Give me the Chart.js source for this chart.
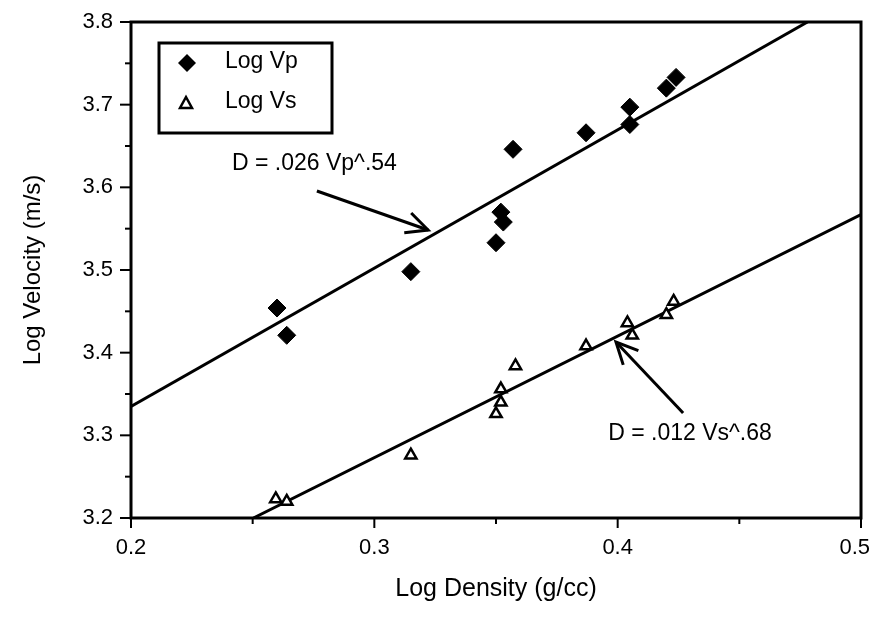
<!DOCTYPE html>
<html>
<head>
<meta charset="utf-8">
<script src="https://cdn.jsdelivr.net/npm/chart.js@4.4.0/dist/chart.umd.min.js"></script>
<style>
  body { margin: 0; background: #fff; }
  #wrap { width: 871px; height: 620px; }
</style>
</head>
<body>
<div id="wrap"><canvas id="chart"></canvas></div>
<script>
// values (log density in g/cc, log velocity in m/s)
const vpDensity  = [0.260, 0.264, 0.315, 0.350, 0.352, 0.353, 0.357, 0.387, 0.405, 0.405, 0.420, 0.424];
const vpVelocity = [3.454, 3.421, 3.498, 3.533, 3.570, 3.558, 3.646, 3.666, 3.676, 3.697, 3.720, 3.733];
const vsDensity  = [0.2595, 0.264, 0.315, 0.350, 0.352, 0.352, 0.358, 0.387, 0.404, 0.406, 0.420, 0.423];
const vsVelocity = [3.223, 3.220, 3.276, 3.326, 3.340, 3.356, 3.384, 3.408, 3.436, 3.421, 3.446, 3.462];

// fitted lines (end points)
const vpFitX = [0.2, 0.478];
const vpFitY = [3.335, 3.8];
const vsFitX = [0.2503, 0.5];
const vsFitY = [3.2, 3.567];

const xTickLabels = ['0.2', '0.3', '0.4', '0.5'];
const yTickLabels = ['3.2', '3.3', '3.4', '3.5', '3.6', '3.7', '3.8'];

const FONT = "'Liberation Sans', Arial, Helvetica, sans-serif";

function pairs(xs, ys) {
    return xs.map((x, i) => ({ x: x, y: ys[i] }));
}

function isMajor(v) {
    return Math.abs(v * 10 - Math.round(v * 10)) < 1e-6;
}

// frame, outer tick marks and x tick labels (kept inside the canvas)
const framePlugin = {
    id: 'frame',
    afterDraw(chart) {
        const { ctx, chartArea: a, scales: { x, y } } = chart;
        ctx.save();
        ctx.strokeStyle = '#000';
        ctx.fillStyle = '#000';
        ctx.lineWidth = 2;
        ctx.font = '22px ' + FONT;
        ctx.textBaseline = 'top';
        ctx.textAlign = 'center';
        x.ticks.forEach(t => {
            const px = x.getPixelForValue(t.value);
            const major = isMajor(t.value);
            ctx.beginPath();
            ctx.moveTo(px, a.bottom);
            ctx.lineTo(px, a.bottom + (major ? 10 : 6));
            ctx.stroke();
            if (major) {
                const label = xTickLabels[Math.round((t.value - 0.2) * 10)];
                const half = ctx.measureText(label).width / 2;
                const cx = Math.min(px, chart.width - 1 - half);
                ctx.fillText(label, cx, a.bottom + 19);
            }
        });
        y.ticks.forEach(t => {
            const py = y.getPixelForValue(t.value);
            const len = isMajor(t.value) ? 11 : 6;
            ctx.beginPath();
            ctx.moveTo(a.left, py);
            ctx.lineTo(a.left - len, py);
            ctx.stroke();
        });
        ctx.lineWidth = 3;
        ctx.strokeRect(a.left, a.top, a.right - a.left, a.bottom - a.top);
        ctx.restore();
    }
};

// legend box in the upper left corner
const legendPlugin = {
    id: 'boxLegend',
    afterDraw(chart) {
        const { ctx, chartArea: a } = chart;
        const bx = a.left + 28, by = a.top + 21;
        ctx.save();
        ctx.strokeStyle = '#000';
        ctx.lineWidth = 3;
        ctx.strokeRect(bx, by, 173, 90);

        // diamond
        ctx.fillStyle = '#000';
        ctx.beginPath();
        ctx.moveTo(bx + 28 - 9, by + 20);
        ctx.lineTo(bx + 28, by + 11);
        ctx.lineTo(bx + 28 + 9, by + 20);
        ctx.lineTo(bx + 28, by + 29);
        ctx.closePath();
        ctx.fill();

        // triangle
        ctx.fillStyle = '#fff';
        ctx.lineWidth = 2.5;
        ctx.beginPath();
        ctx.moveTo(bx + 27, by + 54);
        ctx.lineTo(bx + 33, by + 65);
        ctx.lineTo(bx + 21, by + 65);
        ctx.closePath();
        ctx.fill();
        ctx.stroke();

        ctx.fillStyle = '#000';
        ctx.font = '23px ' + FONT;
        ctx.textBaseline = 'middle';
        ctx.fillText('Log Vp', bx + 66, by + 19);
        ctx.fillText('Log Vs', bx + 66, by + 59);
        ctx.restore();
    }
};

// equation labels with arrows, placed in data units
const notes = [
    { text: 'D = .026 Vp^.54', tx: 0.2415, ty: 3.629, from: [0.2764, 3.5956], to: [0.3221, 3.5484] },
    { text: 'D = .012 Vs^.68', tx: 0.3961, ty: 3.3016, from: [0.4269, 3.327], to: [0.3993, 3.4129] }
];

const notesPlugin = {
    id: 'notes',
    afterDraw(chart) {
        const { ctx, scales: { x, y } } = chart;
        ctx.save();
        ctx.fillStyle = '#000';
        ctx.strokeStyle = '#000';
        ctx.font = '23px ' + FONT;
        ctx.textBaseline = 'middle';
        notes.forEach(n => {
            ctx.fillText(n.text, x.getPixelForValue(n.tx), y.getPixelForValue(n.ty));
            const x1 = x.getPixelForValue(n.from[0]), y1 = y.getPixelForValue(n.from[1]);
            const x2 = x.getPixelForValue(n.to[0]), y2 = y.getPixelForValue(n.to[1]);
            ctx.lineWidth = 3;
            ctx.beginPath();
            ctx.moveTo(x1, y1);
            ctx.lineTo(x2, y2);
            ctx.stroke();
            const ang = Math.atan2(y1 - y2, x1 - x2);
            const len = 24, spread = 0.45;
            ctx.beginPath();
            ctx.moveTo(x2 + Math.cos(ang + spread) * len, y2 + Math.sin(ang + spread) * len);
            ctx.lineTo(x2, y2);
            ctx.lineTo(x2 + Math.cos(ang - spread) * len, y2 + Math.sin(ang - spread) * len);
            ctx.stroke();
        });
        ctx.restore();
    }
};

new Chart(document.getElementById('chart'), {
    type: 'scatter',
    data: {
        datasets: [
            {
                label: 'Log Vp',
                data: pairs(vpDensity, vpVelocity),
                pointStyle: 'rectRot',
                pointRadius: 9,
                backgroundColor: '#000',
                borderColor: '#000',
                borderWidth: 1
            },
            {
                label: 'Log Vs',
                data: pairs(vsDensity, vsVelocity),
                pointStyle: 'triangle',
                pointRadius: 6.5,
                backgroundColor: '#fff',
                borderColor: '#000',
                borderWidth: 2.5
            },
            {
                label: 'Vp fit',
                data: pairs(vpFitX, vpFitY),
                showLine: true,
                pointRadius: 0,
                borderColor: '#000',
                borderWidth: 3
            },
            {
                label: 'Vs fit',
                data: pairs(vsFitX, vsFitY),
                showLine: true,
                pointRadius: 0,
                borderColor: '#000',
                borderWidth: 3
            }
        ]
    },
    options: {
        responsive: true,
        maintainAspectRatio: false,
        animation: false,
        layout: {
            padding: { top: 22, right: 10, left: 0, bottom: 0 }
        },
        plugins: {
            legend: { display: false },
            tooltip: { enabled: false }
        },
        scales: {
            x: {
                type: 'linear',
                min: 0.2,
                max: 0.5,
                afterFit(scale) {
                    scale.height = 102;
                    scale.paddingLeft = 0;
                    scale.paddingRight = 0;
                },
                grid: { display: false, drawTicks: false },
                border: { display: false },
                ticks: {
                    display: false,
                    stepSize: 0.05,
                    autoSkip: false
                },
                title: {
                    display: true,
                    text: 'Log Density (g/cc)',
                    color: '#000',
                    font: { family: FONT, size: 25 },
                    padding: { top: 16, bottom: 16 }
                }
            },
            y: {
                type: 'linear',
                min: 3.2,
                max: 3.8,
                afterFit(scale) {
                    scale.width = 131;
                    scale.paddingTop = 0;
                    scale.paddingBottom = 0;
                },
                grid: { display: false, drawTicks: false },
                border: { display: false },
                ticks: {
                    stepSize: 0.05,
                    autoSkip: false,
                    padding: 18,
                    color: '#000',
                    font: { family: FONT, size: 22 },
                    callback: (v) => isMajor(v) ? yTickLabels[Math.round((v - 3.2) * 10)] : ''
                },
                title: {
                    display: true,
                    text: 'Log Velocity (m/s)',
                    color: '#000',
                    font: { family: FONT, size: 24 },
                    padding: { top: 19, bottom: 19 }
                }
            }
        }
    },
    plugins: [framePlugin, legendPlugin, notesPlugin]
});
</script>
</body>
</html>
